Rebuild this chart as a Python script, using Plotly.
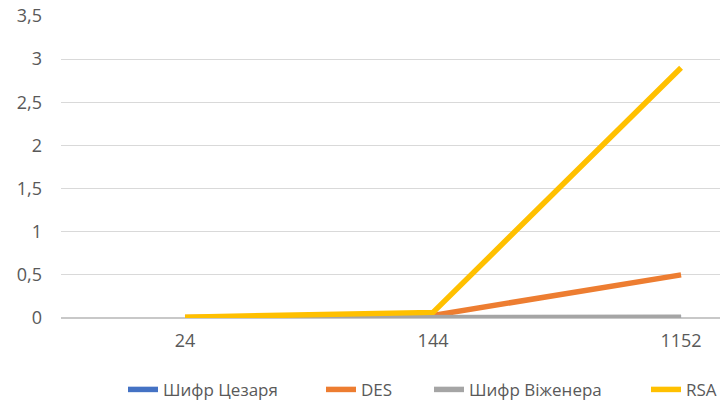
import plotly.graph_objects as go

categories = ["24", "144", "1152"]
caesar = [0.001, 0.002, 0.004]
des = [0.005, 0.03, 0.5]
vigenere = [0.001, 0.003, 0.01]
rsa = [0.01, 0.065, 2.9]

series = [
    ("Шифр Цезаря", caesar, "#4472C4"),
    ("DES", des, "#ED7D31"),
    ("Шифр Віженера", vigenere, "#A5A5A5"),
    ("RSA", rsa, "#FFC000"),
]

tickvals = [0, 0.5, 1, 1.5, 2, 2.5, 3, 3.5]
ticktext = ["0", "0,5", "1", "1,5", "2", "2,5", "3", "3,5"]

legend_ids = ["legend", "legend2", "legend3", "legend4"]
legend_x = [0.0941, 0.3945, 0.5584, 0.8877]

FONT = "Open Sans, sans-serif"
TXT = "#595959"

fig = go.Figure()
for (name, vals, color), lid in zip(series, legend_ids):
    fig.add_trace(go.Scatter(
        x=[0, 1, 2], y=vals, name=name, mode="lines",
        line=dict(color=color, width=5.5, shape="linear"),
        legend=lid,
    ))

legend_layout = {}
for lid, lx in zip(legend_ids, legend_x):
    legend_layout[lid] = dict(
        orientation="h", x=lx, xanchor="left", y=-0.238, yanchor="middle",
        font=dict(family=FONT, size=17, color=TXT), itemwidth=30,
        bgcolor="rgba(0,0,0,0)",
    )

fig.update_layout(
    width=720, height=403,
    margin=dict(l=61, r=0, t=16, b=85, autoexpand=False),
    paper_bgcolor="white", plot_bgcolor="white",
    font=dict(family=FONT, size=17, color=TXT),
    showlegend=True,
    xaxis=dict(
        tickvals=[0, 1, 2], ticktext=categories,
        range=[-0.5, 2.157], showgrid=False, zeroline=False,
        showline=False, ticks="", ticklabelstandoff=10,
        tickfont=dict(family=FONT, size=18, color=TXT),
    ),
    yaxis=dict(
        range=[0, 3.5], tickvals=tickvals, ticktext=ticktext,
        showgrid=True, gridcolor="#D9D9D9", gridwidth=1,
        zeroline=True, zerolinecolor="#C8C8C8", zerolinewidth=2,
        showline=False, ticks="", ticklabelstandoff=18,
        tickfont=dict(family=FONT, size=18, color=TXT),
    ),
    **legend_layout,
)

fig.write_html("out.html")
